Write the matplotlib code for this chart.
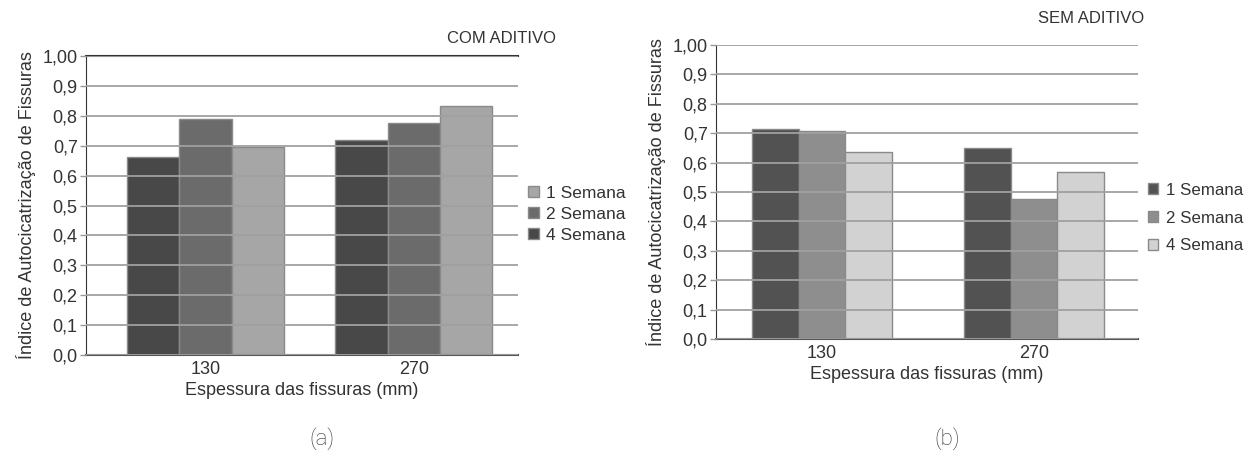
import matplotlib
matplotlib.use("Agg")
import matplotlib.pyplot as plt
from matplotlib.patches import Patch
import numpy as np

plt.rcParams['font.family'] = ['Liberation Sans', 'DejaVu Sans']

espessuras = ['130', '270']
ticks_y = [0.0, 0.1, 0.2, 0.3, 0.4, 0.5, 0.6, 0.7, 0.8, 0.9, 1.0]
tick_labels_y = ['0,0', '0,1', '0,2', '0,3', '0,4', '0,5', '0,6', '0,7', '0,8', '0,9', '1,00']

# com aditivo (barras na ordem 4, 2, 1 semana)
com_1sem = [0.697, 0.832]
com_2sem = [0.788, 0.777]
com_4sem = [0.661, 0.719]

# sem aditivo (barras na ordem 1, 2, 4 semana)
sem_1sem = [0.715, 0.651]
sem_2sem = [0.707, 0.477]
sem_4sem = [0.636, 0.569]

ylabel = 'Índice de Autocicatrização de Fissuras'
xlabel = 'Espessura das fissuras (mm)'
FS = 13

fig = plt.figure(figsize=(12.5, 4.61), dpi=100)


def draw_panel(ax, series, colors, width, xlim, top_dark):
    x = np.arange(len(espessuras))
    n = len(series)
    for i, (vals, c) in enumerate(zip(series, colors)):
        off = (i - (n - 1) / 2) * width
        ax.bar(x + off, vals, width, color=c, edgecolor='#8a8a8a', linewidth=1.0)
    ax.set_xlim(*xlim)
    ax.set_ylim(0, 1.0)
    ax.set_yticks(ticks_y)
    ax.set_yticklabels(tick_labels_y, fontsize=FS, color='#333333')
    ax.set_xticks(x)
    ax.set_xticklabels(espessuras, fontsize=FS, color='#333333')
    ax.tick_params(axis='x', length=0, pad=4)
    ax.tick_params(axis='y', length=4, width=1, color='#999999', pad=2)
    ax.set_axisbelow(False)
    ax.yaxis.grid(True, color='#a0a0a0', linewidth=1.3)
    for s in ['top', 'right']:
        ax.spines[s].set_visible(False)
    ax.spines['left'].set_color('#333333')
    ax.spines['bottom'].set_color('#555555')
    ax.spines['bottom'].set_linewidth(1.5)
    if top_dark:
        ax.axhline(1.0, color='#333333', linewidth=1.5, clip_on=False)
    ax.set_xlabel(xlabel, fontsize=FS, color='#333333', labelpad=3)
    ax.set_ylabel(ylabel, fontsize=FS, color='#333333', labelpad=5)


# (a) com aditivo
ax1 = fig.add_axes([0.0688, 0.2299, 0.3456, 0.6486])
c_light, c_mid, c_dark = '#a6a6a6', '#6b6b6b', '#484848'
draw_panel(ax1, [com_4sem, com_2sem, com_1sem], [c_dark, c_mid, c_light],
           0.251, (-0.573, 1.5), True)
ax1.text(0.962, 1.06, 'COM ADITIVO', transform=ax1.transAxes, ha='center',
         va='center', fontsize=12, color='#333333')
h1 = [Patch(facecolor=c_light, edgecolor='#8a8a8a'),
      Patch(facecolor=c_mid, edgecolor='#8a8a8a'),
      Patch(facecolor=c_dark, edgecolor='#8a8a8a')]
fig.legend(h1, ['1 Semana', '2 Semana', '4 Semana'], loc='center left',
           bbox_to_anchor=(0.410, 0.535), frameon=False, fontsize=12.5,
           handlelength=0.6, handleheight=0.6, handletextpad=0.45,
           labelspacing=0.35, labelcolor='#333333')
fig.text(0.2576, 0.024, '(a)', ha='center', va='bottom', fontsize=16,
         family='Roboto', fontweight='light', color='#333333')

# (b) sem aditivo
ax2 = fig.add_axes([0.5728, 0.2646, 0.3376, 0.6377])
s_dark, s_mid, s_light = '#525252', '#8e8e8e', '#d2d2d2'
draw_panel(ax2, [sem_1sem, sem_2sem, sem_4sem], [s_dark, s_mid, s_light],
           0.22, (-0.5, 1.49), False)
ax2.text(0.89, 1.09, 'SEM ADITIVO', transform=ax2.transAxes, ha='center',
         va='center', fontsize=12, color='#333333')
h2 = [Patch(facecolor=s_dark, edgecolor='#8a8a8a'),
      Patch(facecolor=s_mid, edgecolor='#8a8a8a'),
      Patch(facecolor=s_light, edgecolor='#8a8a8a')]
fig.legend(h2, ['1 Semana', '2 Semana', '4 Semana'], loc='center left',
           bbox_to_anchor=(0.906, 0.527), frameon=False, fontsize=12.2,
           handlelength=0.6, handleheight=0.6, handletextpad=0.45,
           labelspacing=0.75, labelcolor='#333333')
fig.text(0.7576, 0.024, '(b)', ha='center', va='bottom', fontsize=16,
         family='Roboto', fontweight='light', color='#333333')

fig.savefig('out.png', dpi=100, facecolor='white')
